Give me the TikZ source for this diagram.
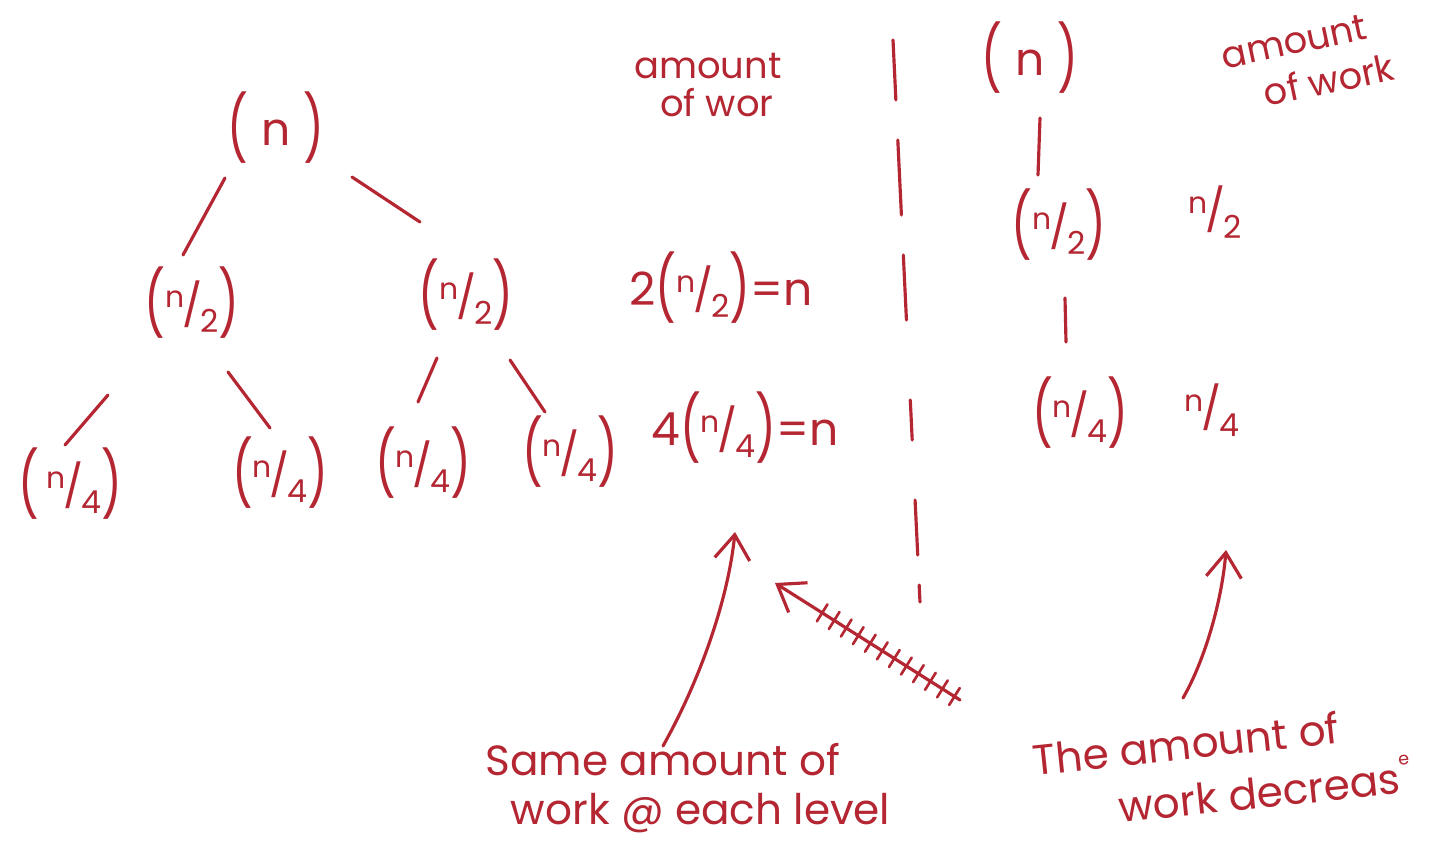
\documentclass[tikz,border=0pt]{standalone}
\usepackage{fontspec}
\setmainfont{Poppins}
\usepackage{graphicx}
\usetikzlibrary{arrows.meta,calc}
\definecolor{ink}{RGB}{180,38,50}
\newcommand\hf[2]{\raisebox{.5ex}{\fontsize{17}{17}\selectfont #1}\kern-.05em{\fontsize{24}{24}\selectfont/}\kern-.05em\raisebox{-.5ex}{\fontsize{18}{18}\selectfont #2}}
\newcommand\lp{\raisebox{-.15em}{\scalebox{1}[1.4]{(}}}
\newcommand\rp{\raisebox{-.15em}{\scalebox{1}[1.4]{)}}}
\begin{document}
\begin{tikzpicture}[x=0.02cm,y=-0.02cm,
  every node/.style={text=ink,inner sep=1pt},
  term/.style={font=\fontsize{26}{30}\selectfont},
  note/.style={font=\fontsize{21}{26}\selectfont,align=left},
  ln/.style={draw=ink,line width=1.8pt,line cap=round},
  tick/.style={draw=ink,line width=1.5pt,line cap=round},
  arr/.style={ln,-{Straight Barb[length=14pt,width=20pt,line width=1.8pt]}}]
\useasboundingbox (0,0) rectangle (1450,841);
\fill[white] (0,0) rectangle (1450,841);
% left tree
\node[term] (root) at (276,128) {\lp\;n\;\rp};
\node[term] (l1a) at (192,303) {\lp\hf{n}{2}\rp};
\node[term] (l1b) at (466,295) {\lp\hf{n}{2}\rp};
\node[term] (l2a) at (70,484) {\lp\,\hf{n}{4}\rp};
\node[term] (l2b) at (280,473) {\lp\hf{n}{4}\rp};
\node[term] (l2c) at (423,463) {\lp\hf{n}{4}\rp};
\node[term] (l2d) at (570,452) {\lp\hf{n}{4}\rp};
\draw[ln] ($(root)+(-51,50)$) -- ($(l1a)+(-9,-48)$);
\draw[ln] ($(root)+(76,49)$) -- ($(l1b)+(-46,-73)$);
\draw[ln] ($(l1a)+(-84,92)$) -- ($(l2a)+(-5,-39)$);
\draw[ln] ($(l1a)+(36,69)$) -- ($(l2b)+(-10,-45)$);
\draw[ln] ($(l1b)+(-29,63)$) -- ($(l2c)+(-5,-61)$);
\draw[ln] ($(l1b)+(44,65)$) -- ($(l2d)+(-25,-40)$);
% work column (left)
\node[note] (aw) at (708,85) {amount\\[-4pt]\hspace{0.7em}of wor};
\node[term] (eq2) at (721,288) {2\lp\hf{n}{2}\rp=n};
\node[term] (eq4) at (745,428) {4\lp\hf{n}{4}\rp=n};
% divider
\foreach \a/\b in {40/100,140/215,255/320,400/440,500/555,585/602}
  \draw[ln] ({893+(\a-40)*0.048},\a) -- ({893+(\b-40)*0.048},\b);
% right chain
\node[term] (rn) at (1030,58) {\lp\;n\;\rp};
\node[term] (rn2) at (1059,225) {\lp\hf{n}{2}\rp};
\node[term] (rn4) at (1080,413) {\lp\hf{n}{4}\rp};
\node[term] (w2) at (1215,212) {\hf{n}{2}};
\node[term] (w4) at (1212,410) {\hf{n}{4}};
\draw[ln] ($(rn)+(10,60)$) -- ($(rn2)+(-21,-50)$);
\draw[ln] ($(rn2)+(6,73)$) -- ($(rn4)+(-14,-71)$);
\node[note,rotate=12] (aw2) at (1308,62) {amount\\\hspace{0.9em}of work};
% bottom notes
\node[note,font=\fontsize{24}{28}\selectfont] (same) at (688,788) {Same amount of\\\hspace{0.6em}work @ each level};
\node[note,font=\fontsize{24}{34}\selectfont,rotate=6] (dec) at (1222,768) {The amount of\\[-2pt]\hspace{1.9em}work decreas\raisebox{1.2ex}{\fontsize{10}{10}\selectfont e}};
% arrows
\coordinate (a1) at (735,532);
\coordinate (a3) at (1226,550);
\coordinate (h1) at (960,700);
\coordinate (h2) at (775,583);
\draw[arr] ($(same)+(-25,-42)$) .. controls (700,680) and (728,600) .. (a1);
\draw[arr] ($(dec)+(-39,-70)$) .. controls (1205,660) and (1222,600) .. (a3);
\draw[arr] (h1) -- (h2);
\foreach \s in {0.03,0.095,...,0.8}
  \draw[tick] ($(h1)!\s!(h2)+(-5.3,8.5)$) -- ($(h1)!\s!(h2)+(5.3,-8.5)$);
\end{tikzpicture}
\end{document}
